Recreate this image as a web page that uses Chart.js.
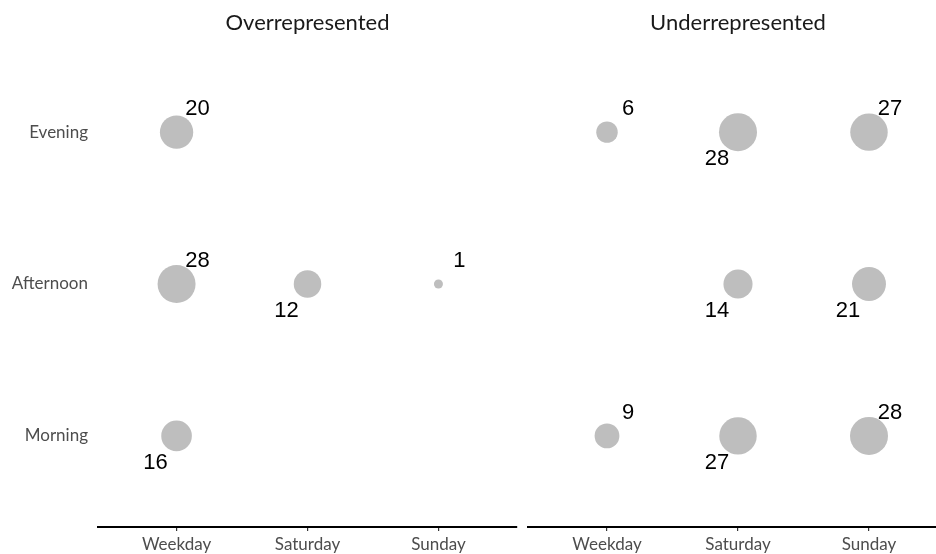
<!DOCTYPE html>
<html>
<head>
<meta charset="utf-8">
<script src="https://cdn.jsdelivr.net/npm/chart.js@4.4.1/dist/chart.umd.min.js"></script>
<style>
  html, body { margin: 0; padding: 0; background: #fff; overflow: hidden; }
  body { width: 936px; height: 554px; position: relative; }
  canvas { position: absolute; top: 0; }
  #overChart { left: 0; }
  #underChart { left: 520px; }
</style>
</head>
<body>
<canvas id="overChart" width="525" height="554"></canvas>
<canvas id="underChart" width="440" height="554"></canvas>
<script>
// Categories
const dayCategories = ['Weekday', 'Saturday', 'Sunday'];
const timeCategories = ['Morning', 'Afternoon', 'Evening'];
const panelTitles = ['Overrepresented', 'Underrepresented'];

// Counts: one array per time of day, columns follow dayCategories
const overMorning = [16, null, null];
const overAfternoon = [28, 12, 1];
const overEvening = [20, null, null];

const underMorning = [9, 27, 28];
const underAfternoon = [null, 14, 21];
const underEvening = [6, 28, 27];

// Which side of the bubble the number sits on: 'ur' upper right, 'll' lower left
const overSides = [['ll', '', ''], ['ur', 'll', 'ur'], ['ur', '', '']];
const underSides = [['ur', 'll', 'ur'], ['', 'll', 'll'], ['ur', 'll', 'ur']];

const allCounts = [overMorning, overAfternoon, overEvening, underMorning, underAfternoon, underEvening]
    .flat().filter(v => v !== null);
const minCount = Math.min(...allCounts);
const maxCount = Math.max(...allCounts);

// Bubble radius: size range 4.5px .. 19px
const bubbleRadius = (v) => 4.5 + 14.5 * Math.sqrt((v - minCount) / (maxCount - minCount));

const buildPoints = (rows, sides) => {
    const points = [];
    rows.forEach((row, ti) => {
        row.forEach((v, di) => {
            if (v === null) return;
            points.push({ x: di + 1, y: ti + 1, v: v, side: sides[ti][di] });
        });
    });
    return points;
};

const tickFont = { family: 'Lato, "Open Sans", sans-serif', size: 17 };

// Panel title + number labels
const panelDecor = {
    id: 'panelDecor',
    afterDatasetsDraw(chart, args, opts) {
        const { ctx, chartArea } = chart;
        ctx.save();
        ctx.fillStyle = '#000';
        ctx.textAlign = 'center';
        ctx.textBaseline = 'middle';
        ctx.font = '22px "Liberation Sans", Arial, sans-serif';
        const meta = chart.getDatasetMeta(0);
        const pts = chart.data.datasets[0].data;
        meta.data.forEach((el, i) => {
            const p = pts[i];
            const dx = p.side === 'ur' ? 21 : -21;
            const dy = p.side === 'ur' ? -23 : 27;
            ctx.fillText(String(p.v), el.x + dx, el.y + dy);
        });
        ctx.font = '22px Lato, "Open Sans", sans-serif';
        ctx.fillStyle = '#1a1a1a';
        ctx.fillText(opts.title, (chartArea.left + chartArea.right) / 2, 23);
        ctx.restore();
    }
};

const makeChart = (canvasId, points, title, showY, padding) => {
    return new Chart(document.getElementById(canvasId), {
        type: 'bubble',
        data: {
            datasets: [{
                data: points,
                backgroundColor: '#bebebe',
                borderWidth: 0,
                radius: (ctx) => bubbleRadius(ctx.raw.v)
            }]
        },
        options: {
            responsive: false,
            animation: false,
            events: [],
            layout: { padding: padding, autoPadding: false },
            plugins: {
                legend: { display: false },
                tooltip: { enabled: false },
                panelDecor: { title: title }
            },
            scales: {
                x: {
                    type: 'linear',
                    min: 0.4,
                    max: 3.6,
                    afterBuildTicks: (s) => { s.ticks = dayCategories.map((c, i) => ({ value: i + 1 })); },
                    afterFit: (s) => { s.height = 27; },
                    ticks: {
                        callback: (v) => dayCategories[v - 1],
                        color: '#4d4d4d',
                        font: tickFont,
                        padding: 3,
                        maxRotation: 0
                    },
                    grid: { drawOnChartArea: false, drawTicks: true, tickLength: 4, color: '#333', lineWidth: 1.2 },
                    border: { display: true, color: '#000', width: 2 }
                },
                y: {
                    type: 'linear',
                    display: showY,
                    min: 0.4,
                    max: 3.6,
                    afterBuildTicks: (s) => { s.ticks = timeCategories.map((c, i) => ({ value: i + 1 })); },
                    afterFit: (s) => { s.width = showY ? 98 : 0; },
                    ticks: {
                        callback: (v) => timeCategories[v - 1],
                        color: '#4d4d4d',
                        font: tickFont,
                        padding: 10
                    },
                    grid: { display: false, drawTicks: false },
                    border: { display: false }
                }
            }
        },
        plugins: [panelDecor]
    });
};

makeChart('overChart', buildPoints([overMorning, overAfternoon, overEvening], overSides),
    panelTitles[0], true, { left: 0, right: 8, top: 41, bottom: 0 });
makeChart('underChart', buildPoints([underMorning, underAfternoon, underEvening], underSides),
    panelTitles[1], false, { left: 8.4, right: 12.4, top: 41, bottom: 0 });
</script>
</body>
</html>
